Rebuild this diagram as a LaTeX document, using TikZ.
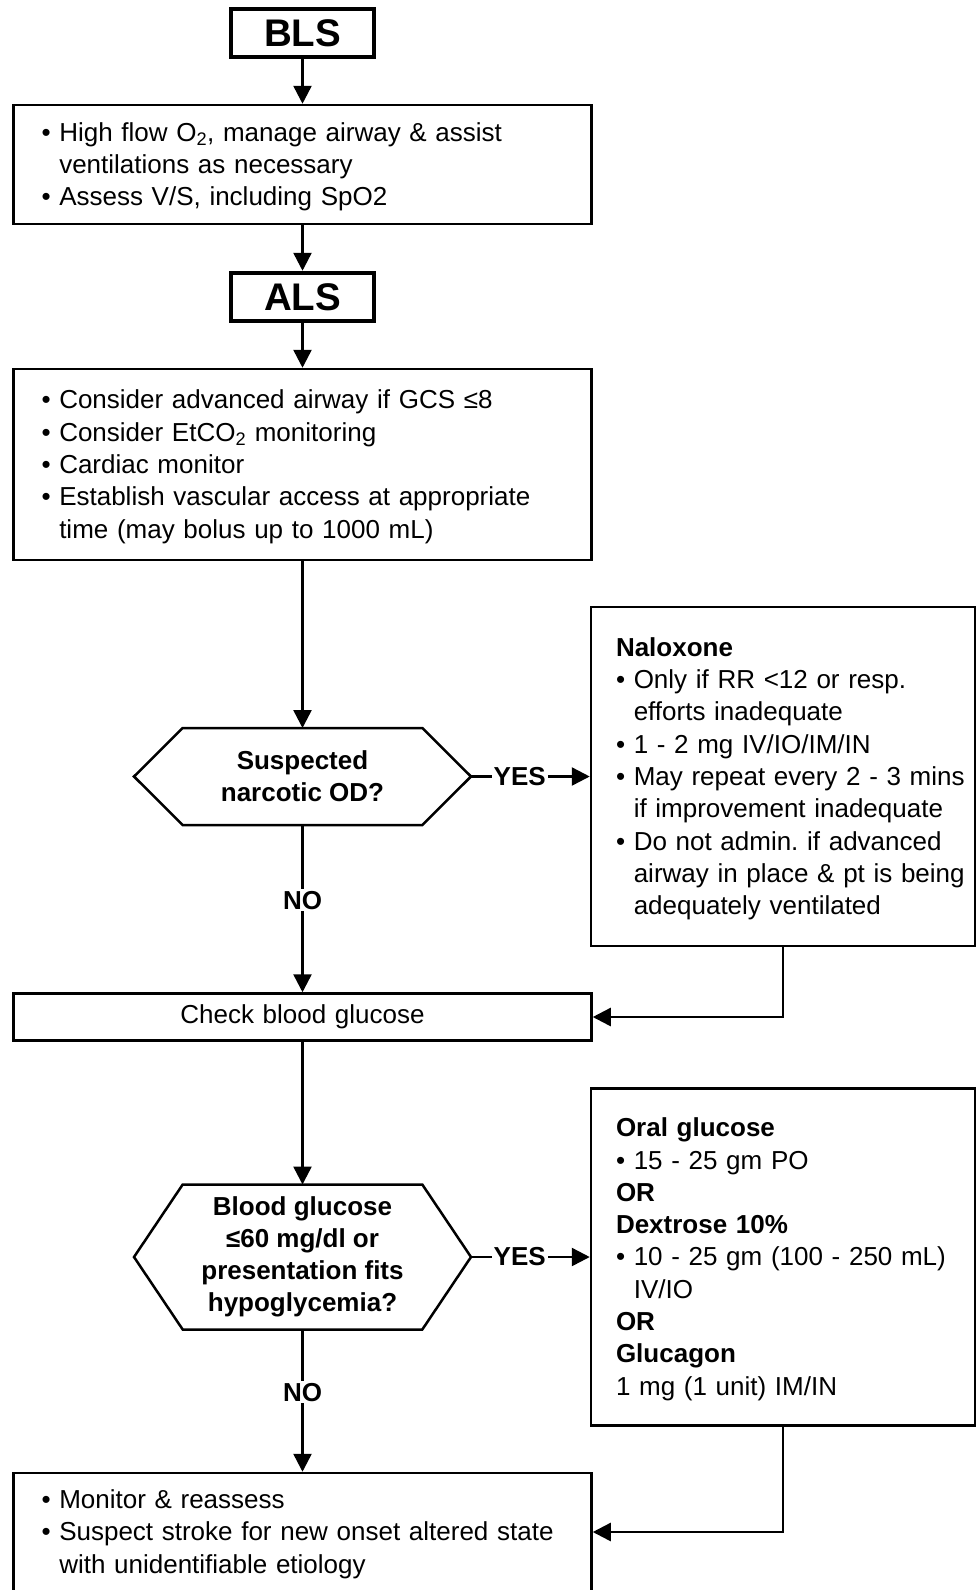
\documentclass[tikz,border=0pt]{standalone}
\usepackage{fontspec}
\setmainfont{Liberation Sans}
\usepackage{tikz}
\usetikzlibrary{arrows.meta,positioning,calc}
\definecolor{ink}{HTML}{000000}
\frenchspacing

\newcommand{\bul}{\textbullet\ }
\newcommand{\ind}{\phantom{\textbullet\ }}
\newcommand{\firstrow}{\rule{0pt}{27.5pt}}

\tikzset{
  every node/.style={font=\fontsize{26}{32.3}\selectfont, text=ink},
  stagebox/.style={draw=ink, line width=4.5pt, minimum width=143pt, minimum height=48pt,
    font=\fontsize{38.5}{44}\selectfont\bfseries},
  mainbox/.style={draw=ink, line width=2.5pt, text width=522pt, inner xsep=28pt, align=left},
  sidebox/.style={draw=ink, line width=2.5pt, text width=334pt, inner xsep=25pt, align=left},
  query/.style={minimum width=337pt, inner sep=0pt, outer sep=0pt, align=center,
    font=\fontsize{26}{31.8}\selectfont\bfseries},
  link/.style={draw=ink, line width=2.5pt, -{Triangle[length=18pt,width=18pt]}},
  answer/.style={fill=white, inner sep=2pt, font=\fontsize{26}{32}\selectfont\bfseries},
}

\begin{document}
\begin{tikzpicture}[x=1pt, y=-1pt]
  \useasboundingbox (0,0) rectangle (977,1590);

  % main column
  \node[stagebox] (bls) at (302.5,33) {BLS};
  \node[mainbox, minimum height=119pt] (oxy) at (302.5,164.5) {\begin{tabular}{@{}l@{}}
    \firstrow\bul High flow O\textsubscript{2}, manage airway \& assist\\
    \ind ventilations as necessary\\
    \bul Assess V/S, including SpO2
  \end{tabular}};
  \node[stagebox] (als) at (302.5,297) {ALS};
  \node[mainbox, minimum height=191pt] (airway) at (302.5,464.5) {\begin{tabular}{@{}l@{}}
    \firstrow\bul Consider advanced airway if GCS ≤8\\
    \bul Consider EtCO\textsubscript{2} monitoring\\
    \bul Cardiac monitor\\
    \bul Establish vascular access at appropriate\\
    \ind time (may bolus up to 1000 mL)
  \end{tabular}};
  \node[query, minimum height=97pt] (narc) at (302.5,776.5) {Suspected\\narcotic OD?};
  \node[mainbox, align=center, minimum height=47pt] (gluc) at (302.5,1017) {Check blood glucose};
  \node[query, minimum height=145pt] (hypo) at (302.5,1257) {Blood glucose\\≤60 mg/dl or\\presentation fits\\hypoglycemia?};
  \node[mainbox, minimum height=118pt] (reassess) at (302.5,1532) {\begin{tabular}{@{}l@{}}
    \firstrow\bul Monitor \& reassess\\
    \bul Suspect stroke for new onset altered state\\
    \ind with unidentifiable etiology
  \end{tabular}};

  % treatment column
  \node[sidebox, minimum height=339pt] (nalox) at (783,776.5) {\begin{tabular}{@{}l@{}}
    \firstrow\textbf{Naloxone}\\
    \bul Only if RR <12 or resp.\\
    \ind efforts inadequate\\
    \bul 1 - 2 mg IV/IO/IM/IN\\
    \bul May repeat every 2 - 3 mins\\
    \ind if improvement inadequate\\
    \bul Do not admin. if advanced\\
    \ind airway in place \& pt is being\\
    \ind adequately ventilated
  \end{tabular}};
  \node[sidebox, minimum height=337pt] (dext) at (783,1257) {\begin{tabular}{@{}l@{}}
    \firstrow\textbf{Oral glucose}\\
    \bul 15 - 25 gm PO\\
    \textbf{OR}\\
    \textbf{Dextrose 10\%}\\
    \bul 10 - 25 gm (100 - 250 mL)\\
    \ind IV/IO\\
    \textbf{OR}\\
    \textbf{Glucagon}\\
    1 mg (1 unit) IM/IN
  \end{tabular}};

  % decision outlines
  \foreach \q in {narc,hypo}
    \draw[draw=ink, line width=2.5pt] (\q.west) -- ([xshift=48.7pt]\q.north west)
      -- ([xshift=-48.7pt]\q.north east) -- (\q.east)
      -- ([xshift=-48.7pt]\q.south east) -- ([xshift=48.7pt]\q.south west) -- cycle;

  % connectors
  \draw[link] (bls) -- (oxy);
  \draw[link] (oxy) -- (als);
  \draw[link] (als) -- (airway);
  \draw[link] (airway) -- (narc);
  \draw[link] (narc.east) -- node[answer, pos=0.41] {YES} (nalox.west);
  \draw[link] (narc.south) -- node[answer, pos=0.45] {NO} (gluc.north);
  \draw[link] (nalox.south) |- (gluc.east);
  \draw[link] (gluc) -- (hypo);
  \draw[link] (hypo.east) -- node[answer, pos=0.41] {YES} (dext.west);
  \draw[link] (hypo.south) -- node[answer, pos=0.44] {NO} (reassess.north);
  \draw[link] (dext.south) |- (reassess.east);
\end{tikzpicture}
\end{document}
